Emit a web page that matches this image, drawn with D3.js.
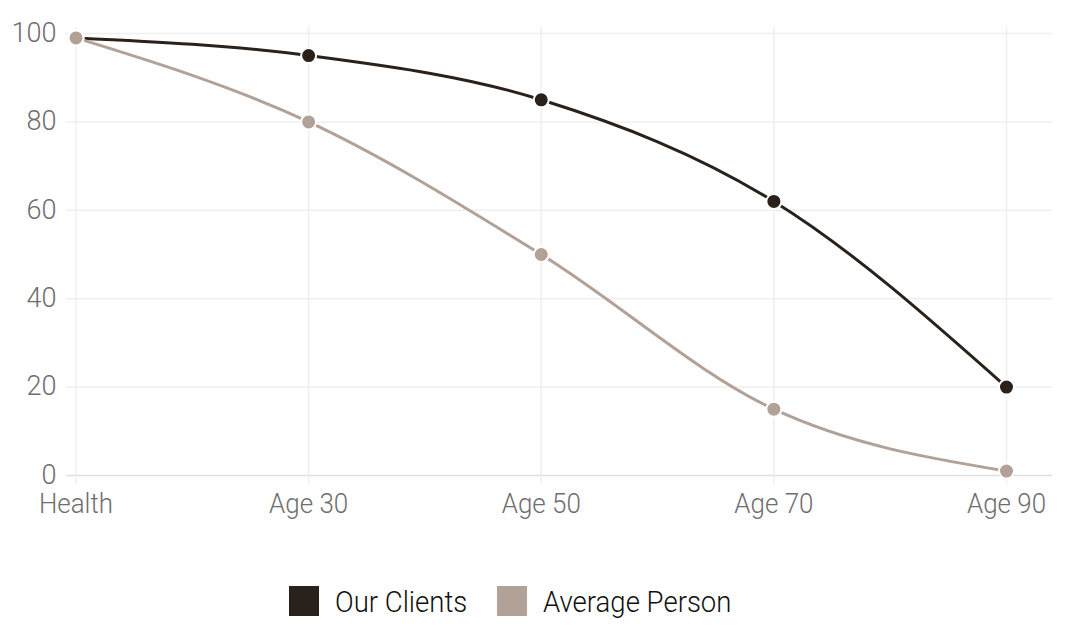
<!DOCTYPE html>
<html>
<head>
<meta charset="utf-8">
<script src="https://cdn.jsdelivr.net/npm/d3@7"></script>
<style>
  html, body { margin: 0; padding: 0; background: #fff; }
  svg { display: block; }
  text { font-family: Roboto, "Noto Sans", sans-serif; font-weight: 300; }
</style>
</head>
<body>
<svg id="chart" width="1074" height="638"></svg>
<script>
const categories = ["Health", "Age 30", "Age 50", "Age 70", "Age 90"];
const ourClients = [99, 95, 85, 62, 20];
const averagePerson = [99, 80, 50, 15, 1];
const yTicks = [0, 20, 40, 60, 80, 100];
const seriesNames = ["Our Clients", "Average Person"];
const seriesColors = ["#2b211b", "#b2a197"];

const svg = d3.select("#chart");

const x = d3.scalePoint().domain(categories).range([76, 1006.5]);
const y = d3.scaleLinear().domain([0, 100]).range([475.5, 33.5]);

function ctext(g, tx, ty, str, anchor, size, fill, sx) {
  return g.append("text")
    .attr("transform", `translate(${tx},${ty}) scale(${sx},1)`)
    .attr("text-anchor", anchor)
    .attr("font-size", size)
    .attr("fill", fill)
    .text(str);
}

// horizontal grid
const grid = svg.append("g");
yTicks.forEach(t => {
  grid.append("line")
    .attr("x1", 66).attr("x2", 1052)
    .attr("y1", y(t)).attr("y2", y(t))
    .attr("stroke", t === 0 ? "#dedede" : "#efefef")
    .attr("stroke-width", 1.5);
});
// vertical grid
categories.forEach(c => {
  grid.append("line")
    .attr("x1", x(c)).attr("x2", x(c))
    .attr("y1", 27).attr("y2", 484)
    .attr("stroke", "#efefef")
    .attr("stroke-width", 1.5);
});

// y labels
yTicks.forEach(t => {
  ctext(svg, 56.5, y(t) + 8.2, String(t), "end", 28.5, "#6e6e6e", 0.95);
});
// x labels
categories.forEach(c => {
  ctext(svg, x(c), 513.3, c, "middle", 28.5, "#6e6e6e", 0.91);
});

const line = d3.line()
  .x((d, i) => x(categories[i]))
  .y(d => y(d))
  .curve(d3.curveMonotoneX);

[ourClients, averagePerson].forEach((data, si) => {
  svg.append("path")
    .attr("d", line(data))
    .attr("fill", "none")
    .attr("stroke", seriesColors[si])
    .attr("stroke-width", 3);
});
[ourClients, averagePerson].forEach((data, si) => {
  svg.append("g").selectAll("circle").data(data).join("circle")
    .attr("cx", (d, i) => x(categories[i]))
    .attr("cy", d => y(d))
    .attr("r", 7.5)
    .attr("fill", seriesColors[si])
    .attr("stroke", "#fff")
    .attr("stroke-width", 2);
});

// legend
const legend = svg.append("g");
const legX = [289, 497];
seriesNames.forEach((n, i) => {
  legend.append("rect")
    .attr("x", legX[i]).attr("y", 586)
    .attr("width", 30).attr("height", 30)
    .attr("fill", seriesColors[i]);
  ctext(legend, legX[i] + 46, 611.7, n, "start", 29.5, "#111", 0.934);
});
</script>
</body>
</html>
